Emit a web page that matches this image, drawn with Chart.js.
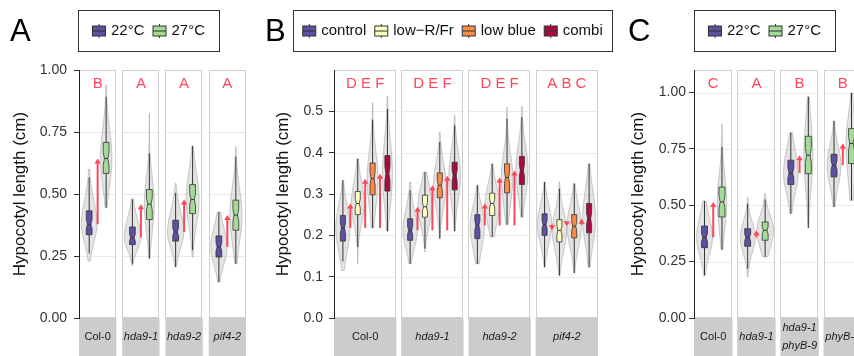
<!DOCTYPE html>
<html>
<head>
<meta charset="utf-8">
<script src="https://cdn.jsdelivr.net/npm/chart.js@4.4.1/dist/chart.umd.min.js"></script>
<style>
  body { margin: 0; width: 854px; height: 356px; overflow: hidden; background: #fff; position: relative; }
  canvas { position: absolute; top: 0; }
</style>
</head>
<body>
<canvas id="chartA" width="258" height="356" style="left:0px"></canvas>
<canvas id="chartB" width="358" height="356" style="left:258px"></canvas>
<canvas id="chartC" width="254" height="356" style="left:618px"></canvas>
<script>
// ---- data ----
// each box row: [violin low, whisker low, q1, median, q3, whisker high, violin high]
const genotypesA = ['Col-0', 'hda9-1', 'hda9-2', 'pif4-2'];
const lettersA = ['B', 'A', 'A', 'A'];
const tempGroups = ['22°C', '27°C'];
const statsA22 = [
  [0.230, 0.260, 0.336, 0.378, 0.432, 0.567, 0.600],
  [0.213, 0.219, 0.296, 0.324, 0.367, 0.478, 0.480],
  [0.206, 0.206, 0.310, 0.347, 0.394, 0.505, 0.542],
  [0.145, 0.145, 0.246, 0.287, 0.331, 0.427, 0.427]
];
const statsA27 = [
  [0.445, 0.445, 0.583, 0.643, 0.708, 0.892, 0.940],
  [0.240, 0.240, 0.397, 0.459, 0.518, 0.664, 0.825],
  [0.246, 0.273, 0.421, 0.478, 0.538, 0.693, 0.693],
  [0.219, 0.219, 0.354, 0.415, 0.475, 0.650, 0.690]
];
const ticksA = [0, 0.25, 0.5, 0.75, 1.0];

const genotypesB = ['Col-0', 'hda9-1', 'hda9-2', 'pif4-2'];
const lettersB = ['D E F', 'D E F', 'D E F', 'A B C'];
const lightGroups = ['control', 'low\u2212R/Fr', 'low blue', 'combi'];
const statsBcontrol = [
  [0.115, 0.137, 0.186, 0.218, 0.248, 0.333, 0.333],
  [0.131, 0.131, 0.188, 0.212, 0.240, 0.309, 0.329],
  [0.131, 0.131, 0.192, 0.224, 0.250, 0.321, 0.321],
  [0.123, 0.123, 0.200, 0.226, 0.252, 0.329, 0.329]
];
const statsBlowRFr = [
  [0.131, 0.172, 0.250, 0.277, 0.306, 0.385, 0.385],
  [0.160, 0.168, 0.244, 0.269, 0.297, 0.353, 0.353],
  [0.196, 0.196, 0.248, 0.277, 0.302, 0.373, 0.373],
  [0.103, 0.103, 0.184, 0.212, 0.238, 0.313, 0.329]
];
const statsBlowBlue = [
  [0.218, 0.218, 0.298, 0.337, 0.375, 0.480, 0.521],
  [0.192, 0.192, 0.291, 0.321, 0.351, 0.426, 0.450],
  [0.226, 0.226, 0.303, 0.340, 0.373, 0.482, 0.510],
  [0.109, 0.109, 0.194, 0.222, 0.250, 0.325, 0.325]
];
const statsBcombi = [
  [0.210, 0.210, 0.307, 0.349, 0.393, 0.506, 0.536],
  [0.210, 0.210, 0.310, 0.344, 0.377, 0.466, 0.490],
  [0.244, 0.244, 0.323, 0.357, 0.391, 0.486, 0.512],
  [0.123, 0.123, 0.206, 0.240, 0.277, 0.373, 0.373]
];
const ticksB = [0, 0.1, 0.2, 0.3, 0.4, 0.5];

const genotypesC = ['Col-0', 'hda9-1', 'hda9-1\nphyB-9', 'phyB-9'];
const lettersC = ['C', 'A', 'B', 'B'];
const statsC22 = [
  [0.189, 0.189, 0.312, 0.357, 0.408, 0.519, 0.519],
  [0.182, 0.219, 0.318, 0.357, 0.396, 0.507, 0.534],
  [0.463, 0.463, 0.592, 0.643, 0.700, 0.822, 0.822],
  [0.493, 0.493, 0.626, 0.678, 0.726, 0.874, 0.874]
];
const statsC27 = [
  [0.303, 0.303, 0.448, 0.515, 0.581, 0.759, 0.860],
  [0.271, 0.271, 0.345, 0.389, 0.426, 0.525, 0.552],
  [0.400, 0.400, 0.640, 0.722, 0.806, 0.981, 0.981],
  [0.522, 0.522, 0.685, 0.774, 0.840, 0.998, 0.998]
];
const ticksC = [0, 0.25, 0.5, 0.75, 1.0];

const tempColors = ['#5e4fa2', '#a3dc95'];
const lightColors = ['#5e4fa2', '#ffffbf', '#fa8c48', '#ab0844'];
const RED = '#ff4658';
const FONT = '"Liberation Sans", Arial, sans-serif';

// ---- drawing helpers ----
function facetLayout(chart) {
  const o = chart.options.plugins.facets;
  const xs = chart.scales.x;
  const w = o.nGroups + 0.2;
  return o.genotypes.map((g, f) => {
    const s = f * (w + o.gap);
    return { left: xs.getPixelForValue(s), right: xs.getPixelForValue(s + w) };
  });
}

function drawViolin(ctx, ys, x, s, hw) {
  const [vLo, , q1, med, q3, , vHi] = s;
  const sdUp = Math.max(1.2 * (q3 - med) / 0.674, 0.005);
  const sdDn = Math.max(1.2 * (med - q1) / 0.674, 0.005);
  const pts = [];
  for (let i = 0; i <= 80; i++) {
    const v = vLo + (vHi - vLo) * i / 80;
    const z = (v - med) / (v > med ? sdUp : sdDn);
    pts.push([ys.getPixelForValue(v), hw * Math.exp(-0.5 * z * z)]);
  }
  ctx.beginPath();
  pts.forEach(([py, w], i) => i ? ctx.lineTo(x + w, py) : ctx.moveTo(x + w, py));
  for (let i = pts.length - 1; i >= 0; i--) ctx.lineTo(x - pts[i][1], pts[i][0]);
  ctx.closePath();
  ctx.fillStyle = 'rgba(195,195,195,0.45)';
  ctx.fill();
  ctx.strokeStyle = 'rgba(140,140,140,0.55)';
  ctx.lineWidth = 0.8;
  ctx.stroke();
}

function drawBox(ctx, ys, x, s, bw, color) {
  const [, wLo, q1, med, q3, wHi] = s;
  const p = v => ys.getPixelForValue(v);
  ctx.strokeStyle = '#333';
  ctx.lineWidth = 1;
  ctx.beginPath();
  ctx.moveTo(x, p(wLo)); ctx.lineTo(x, p(q1));
  ctx.moveTo(x, p(q3)); ctx.lineTo(x, p(wHi));
  ctx.stroke();
  const nh = Math.min(0.2 * (q3 - q1), (q3 - med) * 0.8, (med - q1) * 0.8);
  const l = x - bw / 2, r = x + bw / 2, nx = bw * 0.2;
  ctx.beginPath();
  ctx.moveTo(l, p(q3)); ctx.lineTo(r, p(q3));
  ctx.lineTo(r, p(med + nh)); ctx.lineTo(r - nx, p(med)); ctx.lineTo(r, p(med - nh));
  ctx.lineTo(r, p(q1)); ctx.lineTo(l, p(q1));
  ctx.lineTo(l, p(med - nh)); ctx.lineTo(l + nx, p(med)); ctx.lineTo(l, p(med + nh));
  ctx.closePath();
  ctx.fillStyle = color;
  ctx.fill();
  ctx.lineWidth = 0.8;
  ctx.stroke();
  ctx.beginPath();
  ctx.moveTo(l + nx, p(med)); ctx.lineTo(r - nx, p(med));
  ctx.lineWidth = 1;
  ctx.stroke();
}

function drawArrow(ctx, x, y0, y1) {
  const dir = y1 < y0 ? -1 : 1;
  const head = 5;
  ctx.strokeStyle = RED;
  ctx.fillStyle = RED;
  ctx.lineWidth = 2;
  if (Math.abs(y1 - y0) > head) {
    ctx.beginPath();
    ctx.moveTo(x, y0); ctx.lineTo(x, y1 - dir * (head - 1));
    ctx.stroke();
  }
  ctx.beginPath();
  ctx.moveTo(x, y1);
  ctx.lineTo(x - 3.2, y1 - dir * head);
  ctx.lineTo(x + 3.2, y1 - dir * head);
  ctx.closePath();
  ctx.fill();
}

const facetPlugin = {
  id: 'facets',
  beforeDraw(chart) {
    const o = chart.options.plugins.facets;
    const { ctx, chartArea: ca } = chart;
    const ys = chart.scales.y;
    ctx.save();
    facetLayout(chart).forEach((fc, f) => {
      ctx.fillStyle = '#fff';
      ctx.fillRect(fc.left, ca.top, fc.right - fc.left, ca.bottom - ca.top);
      ctx.strokeStyle = '#ebebeb';
      ctx.lineWidth = 1;
      o.ticks.forEach(t => {
        if (t <= 0) return;
        const py = Math.round(ys.getPixelForValue(t)) + 0.5;
        ctx.beginPath(); ctx.moveTo(fc.left, py); ctx.lineTo(fc.right, py); ctx.stroke();
      });
      ctx.strokeStyle = '#cfcfcf';
      ctx.strokeRect(Math.round(fc.left) + 0.5, Math.round(ca.top) + 0.5,
        Math.round(fc.right - fc.left) - 1, Math.round(ca.bottom - ca.top) - 1);
      // strip
      ctx.fillStyle = '#cccccc';
      ctx.fillRect(fc.left, ca.bottom, fc.right - fc.left, chart.height - ca.bottom);
      const name = o.genotypes[f];
      ctx.fillStyle = '#1a1a1a';
      ctx.font = (name === 'Col-0' ? '' : 'italic ') + '11px ' + FONT;
      ctx.textAlign = 'center';
      ctx.textBaseline = 'middle';
      const lines = name.split('\n');
      const cx = (fc.left + fc.right) / 2;
      if (lines.length === 1) ctx.fillText(name, cx, 337);
      else { ctx.fillText(lines[0], cx, 328); ctx.fillText(lines[1], cx, 346); }
    });
    ctx.restore();
  },
  afterDatasetsDraw(chart) {
    const o = chart.options.plugins.facets;
    const { ctx } = chart;
    const xs = chart.scales.x, ys = chart.scales.y;
    const unit = xs.getPixelForValue(1) - xs.getPixelForValue(0);
    const sets = chart.data.datasets;
    ctx.save();
    sets.forEach(ds => ds.data.forEach((pt, f) => {
      const s = ds.stats[f];
      const hw = Math.min(0.48, o.violinArea / (s[6] - s[0])) * unit;
      drawViolin(ctx, ys, xs.getPixelForValue(pt.x), s, hw);
    }));
    sets.forEach(ds => ds.data.forEach((pt, f) => {
      drawBox(ctx, ys, xs.getPixelForValue(pt.x), ds.stats[f], 0.34 * unit, ds.color);
    }));
    // arrows from the first group's median to each other group's median
    sets.slice(1).forEach(ds => ds.data.forEach((pt, f) => {
      const x = xs.getPixelForValue(pt.x - 0.5);
      drawArrow(ctx, x, ys.getPixelForValue(sets[0].stats[f][3]), ys.getPixelForValue(ds.stats[f][3]));
    }));
    // letters
    const ca = chart.chartArea;
    ctx.fillStyle = RED;
    ctx.font = '15px ' + FONT;
    ctx.textAlign = 'center';
    ctx.textBaseline = 'middle';
    facetLayout(chart).forEach((fc, f) => {
      ctx.fillText(o.letters[f], (fc.left + fc.right) / 2, ca.top + 14);
    });
    ctx.restore();
  },
  afterDraw(chart) {
    const o = chart.options.plugins.facets;
    const { ctx } = chart;
    ctx.save();
    ctx.fillStyle = '#000';
    ctx.font = '31px ' + FONT;
    ctx.textBaseline = 'alphabetic';
    ctx.textAlign = 'left';
    ctx.fillText(o.panel, o.panelX, 41);
    // legend
    const [bx0, bx1] = o.legendBox;
    ctx.strokeStyle = '#333';
    ctx.lineWidth = 1;
    ctx.strokeRect(bx0 + 0.5, 10.5, bx1 - bx0, 41);
    ctx.font = '15px ' + FONT;
    const kw = 14, kgap = 5, sp = 8;
    const sets = chart.data.datasets;
    const widths = sets.map(ds => ctx.measureText(ds.label).width);
    const total = widths.reduce((a, b) => a + b, 0) + sets.length * (kw + kgap) + (sets.length - 1) * sp;
    let x = bx0 + (bx1 - bx0 - total) / 2;
    const cy = 31;
    sets.forEach((ds, i) => {
      ctx.strokeStyle = '#333';
      ctx.lineWidth = 1;
      ctx.beginPath();
      ctx.moveTo(x + kw / 2, cy - 7); ctx.lineTo(x + kw / 2, cy + 7);
      ctx.stroke();
      ctx.fillStyle = ds.color;
      ctx.fillRect(x + 0.5, cy - 5, kw - 1, 10);
      ctx.strokeRect(x + 0.5, cy - 5, kw - 1, 10);
      ctx.beginPath();
      ctx.moveTo(x + 0.5, cy); ctx.lineTo(x + kw - 0.5, cy);
      ctx.stroke();
      ctx.fillStyle = '#111';
      ctx.textAlign = 'left';
      ctx.textBaseline = 'middle';
      ctx.fillText(ds.label, x + kw + kgap, cy);
      x += kw + kgap + widths[i] + sp;
    });
    ctx.restore();
  }
};

function makeChart(id, p) {
  const w = p.groups.length + 0.2;
  const nf = p.genotypes.length;
  return new Chart(document.getElementById(id), {
    type: 'scatter',
    data: {
      datasets: p.groups.map((name, g) => ({
        label: name,
        color: p.colors[g],
        stats: p.stats[g],
        pointRadius: 0,
        data: p.genotypes.map((gen, f) => ({ x: f * (w + p.gap) + 0.6 + g, y: p.stats[g][f][3] }))
      }))
    },
    options: {
      responsive: false,
      animation: false,
      devicePixelRatio: 1,
      layout: { padding: { left: 0, right: p.padRight, top: 70, bottom: 38 } },
      plugins: {
        legend: { display: false },
        tooltip: { enabled: false },
        facets: {
          genotypes: p.genotypes, letters: p.letters, nGroups: p.groups.length, gap: p.gap,
          ticks: p.ticks, violinArea: p.violinArea, panel: p.panel, panelX: p.panelX,
          legendBox: p.legendBox
        }
      },
      scales: {
        x: { type: 'linear', display: false, min: 0, max: nf * w + (nf - 1) * p.gap },
        y: {
          type: 'linear', min: 0, max: p.yMax,
          afterFit: s => { s.width = p.axisW; },
          afterBuildTicks: s => { s.ticks = p.ticks.map(v => ({ value: v })); },
          grid: { drawOnChartArea: false, drawTicks: true, tickLength: 5, color: '#333' },
          border: { display: true, color: '#222', width: 1 },
          ticks: {
            autoSkip: false, padding: p.tickPad, color: '#333',
            font: { family: FONT, size: p.tickSize },
            callback: v => v.toFixed(p.decimals)
          },
          title: {
            display: true, text: 'Hypocotyl length (cm)', color: '#111',
            font: { family: FONT, size: 17 }, padding: { top: p.titlePad, bottom: 0 }
          }
        }
      }
    },
    plugins: [facetPlugin]
  });
}

makeChart('chartA', {
  genotypes: genotypesA, letters: lettersA, groups: tempGroups, colors: tempColors,
  stats: [statsA22, statsA27], ticks: ticksA, yMax: 1.0, decimals: 2,
  axisW: 79, padRight: 12, gap: 0.35, violinArea: 0.17, tickSize: 14, tickPad: 7, titlePad: 10,
  panel: 'A', panelX: 10, legendBox: [78, 219]
});
makeChart('chartB', {
  genotypes: genotypesB, letters: lettersB, groups: lightGroups, colors: lightColors,
  stats: [statsBcontrol, statsBlowRFr, statsBlowBlue, statsBcombi], ticks: ticksB, yMax: 0.6, decimals: 1,
  axisW: 76, padRight: 18, gap: 0.33, violinArea: 0.11, tickSize: 14, tickPad: 6, titlePad: 15,
  panel: 'B', panelX: 7, legendBox: [35, 354]
});
makeChart('chartC', {
  genotypes: genotypesC, letters: lettersC, groups: tempGroups, colors: tempColors,
  stats: [statsC22, statsC27], ticks: ticksC, yMax: 1.1, decimals: 2,
  axisW: 76, padRight: 10, gap: 0.27, violinArea: 0.15, tickSize: 14, tickPad: 3, titlePad: 10,
  panel: 'C', panelX: 10, legendBox: [76, 217]
});
</script>
</body>
</html>
